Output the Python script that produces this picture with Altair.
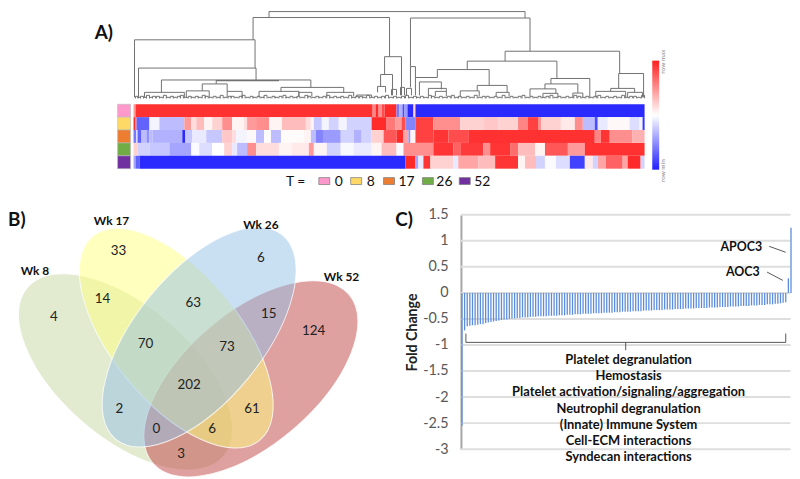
import altair as alt
import pandas as pd

FONT = "Lato"

# ---------- Panel A: dendrogram links (left x, right x, top, left bottom, right bottom)
links = [
    (270,527,8.5,14.5,15),(254,391,14.5,37,54),(412,532,15,64,48.5),(135,256,37,95,65.5),
    (139,257,65.5,95,77.5),(162,312,77.5,90,85),(217,280,78,81.5,78),(217,280,78.3,78.3,78.3),
    (203,228,81.5,88.5,89),(145,185,90,95,95),(187,210,88.5,95,95),(228,243,89,95,95),
    (282,345,85,89,90),(260,300,89,95,94),(300,313,90,94,94),(328,355,90,94,94),
    (358,373,92.7,95,95),(386,403,54,72,93),(382,394,72,84,93),(379,387,84,90,90),
    (393,398,87,93,93),(402,406,85,93,93),(408,413,86,93,93),(412,417,64,85,75),
    (417,439,75,93,75),(469,559,58.5,67,76),(507,622,48.5,58.5,71),(439,491,67,75,83),
    (421,443,79.5,93,87),(430,448,86,93,89),(437,448,89,94,94),(479,509,83,88.5,90),
    (462,481,88.5,94,94),(498,511,90,94,94),(553,592,76,81.5,95),(547,580,81.5,86.5,90.5),
    (532,558,86.5,94,91),(545,560,91,95,95),(575,585,90.7,95,95),(621,646,71,86,95),
    (613,637,86,89,90),(598,628,89,95,95),(630,645,90,95,95),
]
twigs = [(136,2),(138,1),(141,2),(144,1),(147,3),(150,1),(153,2),(157,2),(160,1),(164,3),(167,1),(171,2),
         (174,1),(178,2),(181,3),(185,1),(189,2),(192,1),(196,2),(199,1),(203,3),(206,2),(210,1),(214,2),
         (218,1),(221,3),(225,1),(229,2),(232,2),(236,1),(240,2),(243,3),(247,1),(251,2),(254,1),(258,2),
         (262,1),(265,3),(269,1),(273,2),(276,1),(280,2),(284,3),(287,1),(291,2),(295,1),(298,2),(302,1),
         (306,3),(309,2),(313,1),(317,2),(320,1),(324,2),(328,3),(331,1),(335,2),(339,1),(342,2),(346,1),
         (350,3),(353,1),(357,2),(361,2),(364,1),(368,3),(372,1),(376,2),(380,1),(383,2),(387,3),(391,1),
         (395,2),(399,1),(403,2),(407,3),(411,1),(415,2),(418,1),(422,2),(426,1),(430,3),(433,2),(437,1),
         (441,2),(445,1),(449,2),(453,3),(457,1),(460,2),(464,1),(468,2),(472,1),(476,3),(480,1),(484,2),
         (488,2),(492,1),(496,2),(500,1),(504,3),(508,1),(512,2),(516,1),(520,2),(524,3),(528,1),(532,2),
         (536,1),(540,2),(544,1),(548,2),(552,3),(556,1),(560,2),(564,1),(568,2),(572,1),(576,3),(580,2),
         (584,1),(588,2),(592,1),(596,2),(600,3),(604,1),(608,2),(612,1),(616,2),(620,1),(624,3),(628,1),
         (632,2),(636,2),(640,1),(644,3)]

# ---------- Panel A: heat map, each row a list of (right edge, level)
row_t0 = [(136,.45),(374,.92),(377,.55),(380,.95),(383,.5),(386,.8),(398,.95),(401,-.6),(404,-.35),
          (406,-.8),(409,-.45),(415,-.95),(417,.2),(647,-.95)]
row_t8 = [(136,.95),(137,.6),(150,-.7),(160,-.05),(185,-.3),(192,.45),(197,.15),(205,.3),(213,.05),
          (223,.2),(233,.5),(245,.05),(248,.15),(257,.45),(270,.5),(283,.05),(307,.3),(312,.15),
          (315,.05),(323,-.25),(330,-.05),(340,-.2),(348,-.05),(373,-.2),(388,.95),(397,.6),(403,.45),
          (407,.8),(417,-.55),(435,.85),(462,.5),(485,.2),(500,.25),(520,.2),(530,.55),(540,.85),
          (543,.5),(563,.2),(577,.1),(585,.5),(597,-.3),(600,-.8),(610,-.1),(632,.03),(642,-.15),
          (645,-.05),(647,-.9)]
row_t17 = [(137,-.6),(138,0),(142,-.7),(147,-.3),(150,-.5),(153,-.3),(183,-.35),(186,-.95),(193,-.25),
           (207,-.1),(223,-.25),(233,.25),(237,.15),(248,-.05),(257,.03),(265,-.3),(272,.02),(282,-.3),
           (305,.02),(312,.05),(317,-.3),(325,-.55),(342,-.45),(355,-.2),(363,-.35),(373,-.2),(385,.2),
           (398,.75),(405,.95),(410,.4),(412,-.5),(417,.05),(435,.85),(450,.9),(470,.8),(597,.92),
           (603,.55),(612,.9),(635,.5),(647,.35)]
row_t26 = [(138,.2),(150,-.2),(170,-.25),(192,-.4),(200,-.02),(213,-.15),(225,0),(233,.2),(238,-.1),
           (248,-.3),(257,.5),(280,.15),(293,.05),(310,.1),(315,.45),(328,.05),(342,-.2),(355,-.03),
           (373,-.1),(383,.05),(398,.3),(405,-.02),(435,.5),(455,.9),(462,.7),(485,.88),(492,.5),
           (512,.9),(520,.65),(537,.3),(547,.05),(570,.75),(587,.45),(647,.92)]
row_t52 = [(136,-.4),(140,-.7),(407,-.95),(417,.95),(420,-.4),(425,-.1),(432,.9),(455,.2),(460,-.1),
           (480,.4),(497,.3),(520,.9),(527,.05),(538,.3),(547,-.2),(558,-.02),(572,-.15),(587,-.85),
           (595,.1),(600,-.2),(608,.4),(625,.7),(630,.4),(643,.95),(647,-.2)]
heat_rows = [row_t0, row_t8, row_t17, row_t26, row_t52]
heat_edges = [102, 115, 128, 141, 154, 167]
heat_left = 134

week_labels = ["0", "8", "17", "26", "52"]
week_colors = ["#ff99cc", "#ffd966", "#ed7d31", "#70ad47", "#7030a0"]
swatch_x = [320, 352, 385, 424, 461]
label_x = [336, 368, 400, 438, 476]

# ---------- Panel B: Venn
ellipse_names = ["Wk 8", "Wk 52", "Wk 17", "Wk 26"]
ellipse_x = [126, 252, 177, 200]
ellipse_y = [372, 379, 338, 337]
ellipse_a = [130.5, 130.5, 133, 133]
ellipse_b = [66.5, 66.5, 64.5, 64.5]
ellipse_angle = [40.75, 319.25, 50.8, 309.2]
ellipse_fill = ["#c5d7a1", "#bf4141", "#ffff7d", "#93bfe5"]

venn_counts = ["33","6","14","63","4","15","124","70","73","202","2","61","0","6","3"]
venn_x = [119,262,103,194,54,270,315,146,228,190,120,253,157,213,182]
venn_y = [250,257,299,303,317,314,331,344,347,385,409,410,430,430,455]
venn_names = ["Wk 17","Wk 26","Wk 8","Wk 52"]
venn_name_x = [112,262,35,343]
venn_name_y = [220,224,270,276]

# ---------- Panel C: fold change
fold = [-2.55,-.72,-.64,-.63,-.62,-.62,-.61,-.60,-.60,-.58,-.57,-.56,-.55,-.54,-.53,-.52,-.51,-.51,-.50,
        -.49,-.49,-.48,-.48,-.47,-.47,-.47,-.46,-.46,-.46,-.45,-.45,
        -.45,-.45,-.44,-.44,-.44,-.44,-.43,-.43,-.43,-.42,-.42,-.42,-.41,-.41,-.41,
        -.40,-.40,-.40,-.40,-.39,-.39,-.39,-.39,-.38,-.38,-.38,-.38,-.37,-.37,-.37,
        -.36,-.36,-.36,-.36,-.35,-.35,-.35,-.35,-.34,-.34,-.34,-.34,-.33,-.33,-.33,
        -.33,-.32,-.32,-.32,-.32,-.31,-.31,-.31,-.31,-.30,-.30,-.30,-.30,-.29,-.29,
        -.29,-.29,-.29,-.28,-.28,-.28,-.28,-.27,-.27,-.27,-.27,-.26,-.26,-.26,-.26,
        -.25,-.25,-.25,-.25,-.24,-.24,-.24,-.23,-.23,-.23,-.22,-.22,-.22,-.21,-.21,-.20,-.19,-.18,
        .28,1.25]
fold_ticks = [-3,-2.5,-2,-1.5,-1,-.5,0,.5,1,1.5]
pathways = ["Platelet degranulation","Hemostasis","Platelet activation/signaling/aggregation",
            "Neutrophil degranulation","(Innate) Immune System","Cell-ECM interactions","Syndecan interactions"]
pathway_level = [-1.28,-1.60,-1.91,-2.22,-2.53,-2.84,-3.16]
pathway_index = 63.3
bracket_x = [1.5,1.5,123,123]
bracket_y = [-.78,-.95,-.95,-.78]
bracket_mid_x = [62.2,62.2]
bracket_mid_y = [-.95,-1.10]
gene_names = ["APOC3","AOC3"]
gene_index = [106.1,106.7]
gene_level = [.89,.40]
leader_x = [[116.7,123],[115.9,121.9]]
leader_y = [[.894,.78],[.40,.24]]


# ================= Panel A =================
AX = alt.Scale(domain=[8,792], nice=False, zero=False)
AY = alt.Scale(domain=[195,8], nice=False, zero=False)
GRAY = "#707070"

ld = pd.DataFrame(links, columns=["xl","xr","top","bl","br"])
tw = pd.DataFrame(twigs, columns=["xl","h"])
tw["xr"] = tw["xl"] + 3
tw["top"] = 96 - tw["h"]
tw["bl"] = 96
tw["br"] = 96
ld_all = pd.concat([ld, tw[["xl","xr","top","bl","br"]]])

def dendro(df, sw, col):
    base = alt.Chart(df).mark_rule(stroke=col, strokeWidth=sw)
    return (
        base.encode(x=alt.X("xl:Q",scale=AX,axis=None), x2="xr:Q", y=alt.Y("top:Q",scale=AY,axis=None))
        + base.encode(x=alt.X("xl:Q",scale=AX,axis=None), y=alt.Y("top:Q",scale=AY,axis=None), y2="bl:Q")
        + base.encode(x=alt.X("xr:Q",scale=AX,axis=None), y=alt.Y("top:Q",scale=AY,axis=None), y2="br:Q")
    )

cells = []
for r, row in enumerate(heat_rows):
    left = heat_left
    for right, level in row:
        cells.append(dict(x0=left,x1=right,y0=heat_edges[r],y1=heat_edges[r+1],v=level))
        left = right
heat = alt.Chart(pd.DataFrame(cells)).mark_rect().encode(
    x=alt.X("x0:Q",scale=AX,axis=None), x2="x1:Q",
    y=alt.Y("y0:Q",scale=AY,axis=None), y2="y1:Q",
    color=alt.Color("v:Q",
        scale=alt.Scale(domain=[-1,0,1],range=["#1f1fff","#ffffff","#ff1f1f"],interpolate="rgb"),
        legend=alt.Legend(orient="none",legendX=650,legendY=50,title=None,labelOpacity=0,
                          direction="vertical",gradientLength=110,gradientThickness=7,
                          gradientStrokeWidth=0)),
)
side = pd.DataFrame({"x0":[118]*5,"x1":[131]*5,"y0":heat_edges[:-1],"y1":heat_edges[1:],"c":week_colors})
side_marks = alt.Chart(side).mark_rect(stroke="#bbbbbb",strokeWidth=0.6).encode(
    x=alt.X("x0:Q",scale=AX,axis=None), x2="x1:Q",
    y=alt.Y("y0:Q",scale=AY,axis=None), y2="y1:Q",
    fill=alt.Fill("c:N",scale=None,legend=None))
sw = pd.DataFrame({"x0":swatch_x,"y0":[176]*5,"y1":[183]*5,"c":week_colors})
sw["x1"] = sw["x0"] + 11
sw_marks = alt.Chart(sw).mark_rect(stroke="#777777",strokeWidth=0.7).encode(
    x=alt.X("x0:Q",scale=AX,axis=None), x2="x1:Q",
    y=alt.Y("y0:Q",scale=AY,axis=None), y2="y1:Q",
    fill=alt.Fill("c:N",scale=None,legend=None))

def text_layer(txt, xs, ys, sx, sy, size, bold=False, color="#111111", align="center", angle=None, yaxis=None):
    df = pd.DataFrame({"t":txt,"x":xs,"y":ys})
    kw = dict(font=FONT,fontSize=size,fontWeight="bold" if bold else "normal",color=color,align=align,baseline="middle")
    if angle is not None:
        kw["angle"] = angle
    return alt.Chart(df).mark_text(**kw).encode(
        x=alt.X("x:Q",scale=sx,axis=None), y=alt.Y("y:Q",scale=sy,axis=yaxis), text="t:N")

panel_a = alt.layer(
    dendro(ld_all, 1, GRAY), heat, side_marks, sw_marks,
    text_layer(week_labels,label_x,[180]*5,AX,AY,14,align="left"),
    text_layer(["T ="],[287],[180],AX,AY,14,align="left"),
    text_layer(["A)"],[95],[30],AX,AY,19,bold=True,align="left"),
    text_layer(["row max"],[666],[59],AX,AY,6.5,color="#888888",angle=270),
    text_layer(["row min"],[666],[169],AX,AY,6.5,color="#888888",angle=270),
).resolve_scale(color="independent").properties(width=788,height=187)

# ================= Panel B =================
BX = alt.Scale(domain=[8,463], nice=False, zero=False)
BY = alt.Scale(domain=[479,195], nice=False, zero=False)

def ellipse_path(ratio):
    k = 0.5523
    r = ratio
    return (f"M-1,0C-1,{-k*r:.4f},{-k:.4f},{-r:.4f},0,{-r:.4f}"
            f"C{k:.4f},{-r:.4f},1,{-k*r:.4f},1,0"
            f"C1,{k*r:.4f},{k:.4f},{r:.4f},0,{r:.4f}"
            f"C{-k:.4f},{r:.4f},-1,{k*r:.4f},-1,0Z")

ellipses = []
for i, name in enumerate(ellipse_names):
    df = pd.DataFrame({"x":[ellipse_x[i]],"y":[ellipse_y[i]],"n":[name]})
    ellipses.append(alt.Chart(df).mark_point(
        shape=ellipse_path(ellipse_b[i]/ellipse_a[i]),
        size=(2*ellipse_a[i])**2, angle=ellipse_angle[i],
        filled=True, fill=ellipse_fill[i], fillOpacity=0.5,
        stroke="#ffffff", strokeWidth=1, strokeOpacity=0.8, opacity=1,
    ).encode(x=alt.X("x:Q",scale=BX,axis=None), y=alt.Y("y:Q",scale=BY,axis=None)))

panel_b = alt.layer(
    *ellipses,
    text_layer(venn_counts,venn_x,venn_y,BX,BY,13.5,color="#222222"),
    text_layer(venn_names,venn_name_x,venn_name_y,BX,BY,12,bold=True),
    text_layer(["B)"],[8],[219],BX,BY,19,bold=True,align="left"),
    text_layer(["C)"],[397],[219],BX,BY,19,bold=True,align="left"),
).properties(width=457,height=284)

# ================= Panel C =================
CX = alt.Scale(domain=[-.38,125], nice=False, zero=False)
CY = alt.Scale(domain=[-3,1.5], range=[255,18.5], nice=False, zero=False)
CAXIS = alt.Axis(
    values=fold_ticks,labelExpr="''+datum.value",title="Fold Change",
    titleFont=FONT,titleFontSize=14.3,titleFontWeight="bold",titleColor="#222222",titlePadding=3,
    labelFont=FONT,labelFontSize=14.5,labelColor="#595959",labelPadding=13,
    ticks=False,grid=False,
    domainColor="#a6a6a6",domainWidth=2)

grid_df = pd.DataFrame({"x0":[-.38]*len(fold_ticks),"x1":[124.8]*len(fold_ticks),"v":fold_ticks})
grid = alt.Chart(grid_df).mark_rule(stroke="#dedede",strokeWidth=2).encode(
    x=alt.X("x0:Q",scale=CX,axis=None), x2="x1:Q",
    y=alt.Y("v:Q",scale=CY,axis=CAXIS))

bars_df = pd.DataFrame({"i":range(len(fold)),"v":fold,"z":0})
bars = alt.Chart(bars_df).mark_rule(stroke="#5c8ddc",strokeWidth=1.3).encode(
    x=alt.X("i:Q",scale=CX,axis=None),
    y=alt.Y("v:Q",scale=CY,axis=CAXIS),
    y2="z:Q")

def path_layer(xs, ys, col="#444444", w=0.9):
    df = pd.DataFrame({"x":xs,"y":ys,"o":range(len(xs))})
    return alt.Chart(df).mark_line(stroke=col,strokeWidth=w).encode(
        x=alt.X("x:Q",scale=CX,axis=None), y=alt.Y("y:Q",scale=CY,axis=CAXIS), order="o:Q")

panel_c = alt.layer(
    grid,
    bars,
    path_layer(bracket_x,bracket_y),
    path_layer(bracket_mid_x,bracket_mid_y),
    path_layer(leader_x[0],leader_y[0]),
    path_layer(leader_x[1],leader_y[1]),
    text_layer(pathways,[pathway_index]*len(pathways),pathway_level,CX,CY,13,bold=True,yaxis=CAXIS),
    text_layer(gene_names,gene_index,gene_level,CX,CY,12.5,bold=True,yaxis=CAXIS),
).properties(width=333,height=284)

chart = alt.vconcat(
    panel_a,
    alt.hconcat(panel_b,panel_c,spacing=0,bounds="flush"),
    spacing=0,bounds="flush",
).properties(padding=0,background="#ffffff").configure_view(stroke=None)

chart.save("out.html", embed_options={"renderer": "svg", "actions": False})
